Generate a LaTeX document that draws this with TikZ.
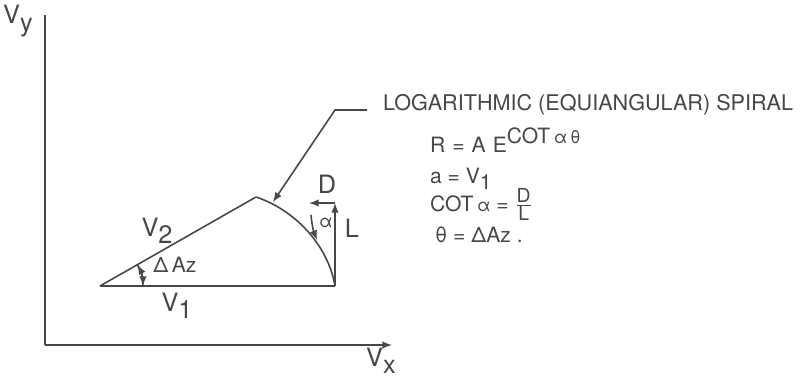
\documentclass[tikz,border=0pt]{standalone}
\usepackage{fontspec}
\setmainfont{TeX Gyre Heros}
\usetikzlibrary{arrows, positioning}
\usetikzlibrary{calc}
\usepackage{xcolor}
\definecolor{ink}{gray}{0.28}
\tikzset{
  ln/.style={ink, line width=0.9pt},
  lbl/.style={ink, font=\Large, inner sep=1pt},
  txt/.style={ink, font=\fontsize{12}{14}\selectfont, anchor=base west, inner sep=1pt}
}
\newcommand{\lowsub}[1]{\raisebox{-0.55ex}{#1}}
\newcommand{\fracletter}[1]{\mbox{\fontsize{11}{13}\selectfont #1}}

\begin{document}
\begin{tikzpicture}[x=0.02cm, y=0.02cm]
				\useasboundingbox (0,0) rectangle (806,383);
				% axes
				\coordinate (top) at (45,368);
				\coordinate (corner) at (45,38);
				\coordinate (xend) at (392,38);
				\draw[ln] (top) -- (corner);
				\draw[ln,-latex] (corner) -- (xend);
				\node[lbl] (vy) at (18,362) {V\lowsub{y}};
				\node[lbl] (vx) at (381,22) {V\lowsub{x}};
				% triangle
				\coordinate (O) at (100,97);
				\coordinate (P) at (335,97);
				\coordinate (A) at (256,186);
				\coordinate (T) at (335,180);
				\coordinate (Dt) at (309,180);
				\draw[ln] (O) -- (P);
				\draw[ln] (O) -- (A);
				\draw[ln] (A) .. controls (295,173) and (328,138) .. (P);
				\draw[ln,-latex] (P) -- (T);
				\draw[ln,-latex] (T) -- (Dt);
				\draw[ln,-latex] (O) ++(43,0) arc (0:29.4:43);
				\draw[ln,-latex] (O) ++(29.4:43) arc (29.4:0:43);
				\draw[ln,-latex] (311,168) to[bend right=8] (317,143);
				\node[lbl] (v2) at (157,152) {V\lowsub{2}};
				\node[lbl] (v1) at (177,77) {V\lowsub{1}};
				\node[lbl,font=\large] (daz) at (175,118) {Δ\,Az};
				\node[lbl] (d) at (327,199) {D};
				\node[lbl] (l) at (352,155) {L};
				\node[lbl,font=\normalsize] (al) at (326,160) {α};
				% leader
				\coordinate (c1) at (367,273);
				\coordinate (c2) at (335,273);
				\coordinate (tip) at (273,181);
				\draw[ln,-latex] (c1) -- (c2) -- (tip);
				\node[txt,font=\fontsize{12.3}{15}\selectfont] (title) at (381,273) {LOGARITHMIC (EQUIANGULAR) SPIRAL};
				\node[txt] (f1) at (428,231) {R\,\,=\,\,A\,\,E\raisebox{5pt}{COT\,{\normalsize α\,θ}}};
				\node[txt] (f2) at (428,200) {a = V\lowsub{1}};
				\node[txt] (f3) at (428,172) {COT\,{\normalsize α} = $\frac{\fracletter{D}}{\fracletter{L}}$};
				\node[txt] (f4) at (433,141) {θ = ΔAz .};
			\end{tikzpicture}
\end{document}
